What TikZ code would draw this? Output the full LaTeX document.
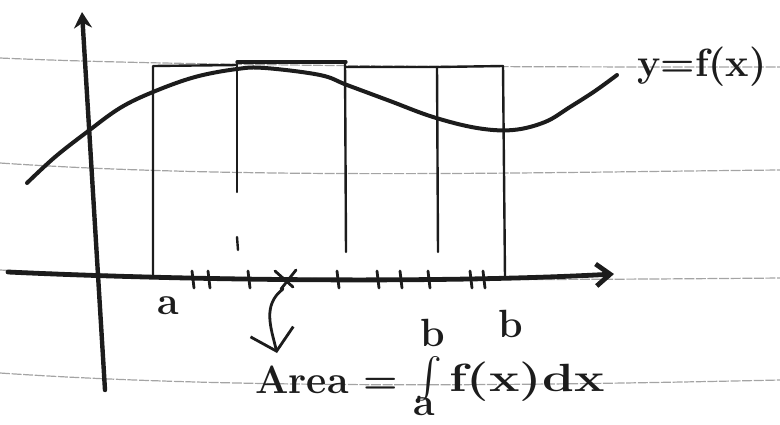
\documentclass[tikz,border=0pt]{standalone}
\usepackage{xcolor}
\usepackage{exscale}
\usepackage{tikz}
\usetikzlibrary{arrows.meta}

\definecolor{ink}{HTML}{1C1C1C}
\definecolor{rulegray}{HTML}{A4A4A4}

\begin{document}
\begin{tikzpicture}[x=0.25mm,y=-0.25mm,
  pen/.style={draw=ink, line width=1mm, line cap=round, line join=round},
  thinpen/.style={draw=ink, line width=0.6mm, line cap=round, line join=round},
  paperline/.style={draw=rulegray, line width=0.3mm, dash pattern=on 2.5mm off 0.4mm},
  hand/.style={text=ink, inner sep=0pt, font=\fontsize{28}{32}\selectfont\bfseries\boldmath}]
\useasboundingbox (0,0) rectangle (780,424);
\draw[paperline] (0,58) .. controls (200,67) and (550,67) .. (780,67);
\draw[paperline] (0,163) .. controls (250,180) and (550,172) .. (780,170);
\draw[paperline] (0,270) .. controls (250,282) and (550,280) .. (780,278);
\draw[paperline] (0,373) .. controls (250,390) and (550,385) .. (780,380);

\draw[thinpen] (153,276) -- (153,66) -- (237,65);
\draw[pen, line width=0.8mm] (237,62) -- (346,62);
\draw[thinpen] (237,192) -- (237,63);
\draw[thinpen] (237,237) -- (238,250);
\draw[thinpen] (345,62) -- (346,252);
\draw[thinpen] (346,67) -- (437,67) -- (503,66);
\draw[thinpen] (437,67) -- (438,252);
\draw[thinpen] (503,66) -- (505,278);

\draw[pen] plot[smooth, tension=0.6] coordinates {(27,183) (55,157) (87,132) (120,108) (153,92) (195,77) (237,69) (265,68) (320,75) (347,85) (390,101) (433,117) (477,128) (513,130) (545,122) (570,107) (595,91) (617,75)};

\coordinate (ytop) at (82,12);
\coordinate (ybot) at (105,390);
\coordinate (xleft) at (8,272);
\coordinate (xtip) at (614,274);
\draw[pen, line width=1.1mm, -{Stealth[length=4mm,width=4.5mm]}] (ybot) -- (ytop);
\draw[pen, line width=1.2mm, -{Straight Barb[length=3.5mm,width=5.5mm]}] (xleft) .. controls (200,281) and (450,283) .. (xtip);

\foreach \t in {192,208,248,337,377,400,428,470,483}
  \draw[thinpen, line width=0.7mm] (\t,271) -- (\t+2,288);
\coordinate (xmark) at (283,289);
\coordinate (arrtip) at (277,353);
\draw[thinpen, line width=0.7mm] (275,271) -- (293,287) (296,270) -- (281,289);
\draw[pen, line width=0.7mm, -{Straight Barb[length=5mm,width=11mm]}] (xmark) .. controls (262,305) and (271,328) .. (arrtip);

\node[hand] (lbla) at (168,306) {a};
\node[hand] (lblb) at (511,324) {b};
\node[hand, anchor=base west] (curvelbl) at (637,76) {y=f(x)};
\node[hand, anchor=base west] (areatxt) at (255,393) {Area =};
\node[hand, anchor=base] (intsign) at (429,389) {\scalebox{1.15}{$\int$}};
\node[hand] (uplim) at (433,333) {b};
\node[hand] (lowlim) at (424,407) {a};
\node[hand, anchor=base west] (fxdx) at (449,391) {\scalebox{1.3}[1]{f(x)dx}};
\end{tikzpicture}
\end{document}
